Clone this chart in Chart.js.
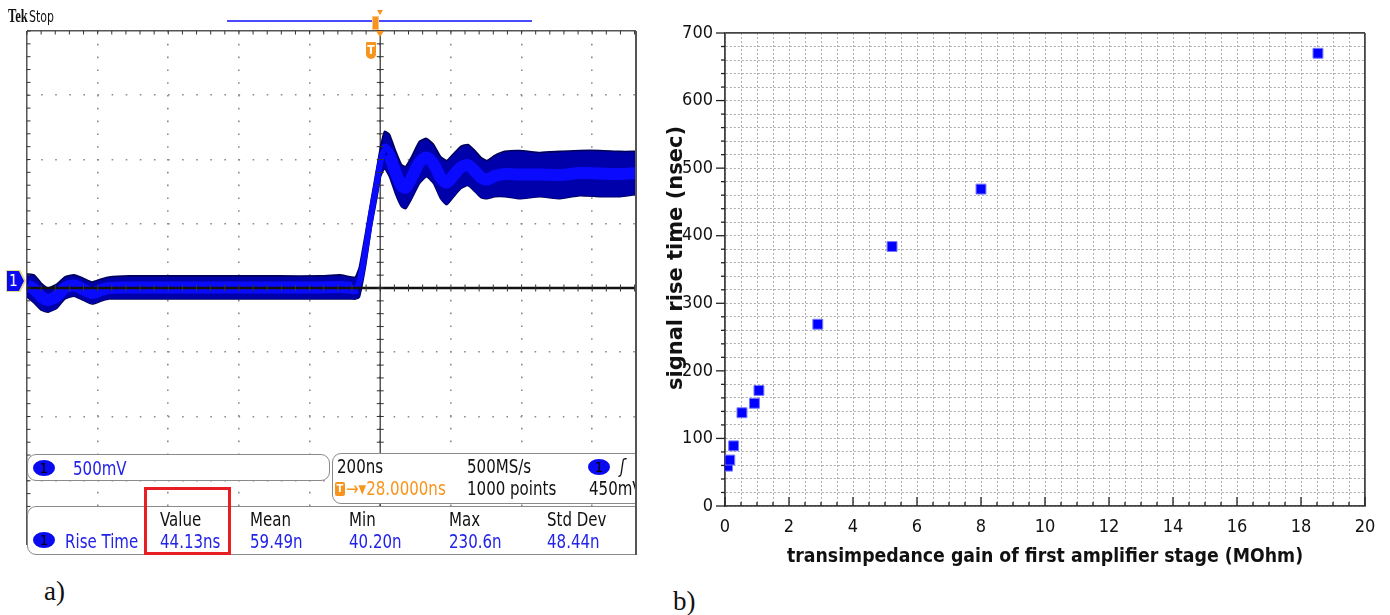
<!DOCTYPE html>
<html>
<head>
<meta charset="utf-8">
<script src="https://cdn.jsdelivr.net/npm/chart.js@4.4.0/dist/chart.umd.min.js"></script>
<style>
  html, body { margin: 0; padding: 0; background: #fff; }
  body { width: 1390px; height: 615px; position: relative; overflow: hidden; font-family: "DejaVu Sans", sans-serif; }
  #scope { position: absolute; left: 0; top: 0; width: 637px; height: 560px; overflow: hidden; }
  #scopeBox { position: absolute; left: 0; top: 0; width: 660px; height: 560px; }
  #plotBox { position: absolute; left: 660px; top: 0; width: 730px; height: 615px; }
  .tk { position: absolute; font-family: "Liberation Sans Narrow", "DejaVu Sans Condensed", sans-serif; font-size: 19px; line-height: 19px; white-space: nowrap; color: #111; transform: scaleX(0.88); transform-origin: left top; }
  .blue { color: #2323e8; }
  .orange { color: #f7941d; }
  .box { position: absolute; background: #fff; border: 1.5px solid #8a8a8a; border-radius: 9px; box-sizing: border-box; }
  .ch1 { position: absolute; width: 22px; height: 16px; border-radius: 50%; background: #0a0af0; color: #000; font-family: "DejaVu Sans Condensed", sans-serif; font-size: 14px; line-height: 16px; text-align: center; }
  .tri { position: absolute; width: 0; height: 0; border-left: 4.5px solid transparent; border-right: 4.5px solid transparent; border-top: 6px solid #f7941d; }
  .lbl { position: absolute; font-family: "Liberation Serif", "Times New Roman", serif; font-size: 27px; line-height: 27px; color: #111; }
  #yTitle { position: absolute; left: 675px; top: 258px; transform: translate(-50%, -50%) rotate(-90deg); font: bold 21px "DejaVu Sans", sans-serif; color: #111; white-space: nowrap; }
</style>
</head>
<body>

<div id="scope">
  <div id="scopeBox"><canvas id="scopeChart"></canvas></div>

  <!-- top status line -->
  <div style="position:absolute;left:8px;top:7px;white-space:nowrap;color:#111;">
    <span style="display:inline-block;font:bold 18px/18px 'Liberation Serif',serif;transform:scaleX(0.7);transform-origin:left;margin-right:-7px;">Tek</span><span style="display:inline-block;font:16px/18px 'DejaVu Sans Condensed',sans-serif;transform:scaleX(0.76);transform-origin:left;">Stop</span>
  </div>
  <div style="position:absolute;left:227px;top:20px;width:305px;height:1.5px;background:#4a4aff;"></div>
  <div class="tri" style="left:377px;top:10px;border-left-width:3px;border-right-width:3px;border-top-width:5px;"></div>
  <div style="position:absolute;left:372px;top:16px;width:7px;height:14px;background:#f7941d;border:1px solid #fbc58a;box-sizing:border-box;"></div>
  <div class="tri" style="left:376px;top:31px;"></div>
  <div style="position:absolute;left:366px;top:42px;width:10px;height:17px;background:#f7941d;border-radius:1px 1px 5px 5px;color:#fff;font:bold 12px/17px 'DejaVu Sans Condensed',sans-serif;text-align:center;">T</div>

  <!-- channel 1 ground marker -->
  <div style="position:absolute;left:6px;top:270px;width:20px;height:22px;background:#e8d890;clip-path:polygon(0 0,72% 0,100% 50%,72% 100%,0 100%);"></div>
  <div style="position:absolute;left:7px;top:271px;width:17px;height:20px;background:#0a0af0;clip-path:polygon(0 0,70% 0,100% 50%,70% 100%,0 100%);color:#fff;font:15px/20px 'DejaVu Sans Condensed',sans-serif;padding-left:2px;box-sizing:border-box;">1</div>

  <!-- readout boxes -->
  <div class="box" style="left:27px;top:454px;width:303px;height:27px;"></div>
  <div class="ch1" style="left:33px;top:460px;">1</div>
  <div class="tk blue" style="left:73px;top:459px;">500mV</div>

  <div class="box" style="left:332px;top:453px;width:340px;height:51px;"></div>
  <div class="tk" style="left:337px;top:457px;">200ns</div>
  <div class="tk" style="left:467px;top:457px;">500MS/s</div>
  <div class="ch1" style="left:588px;top:459px;">1</div>
  <div class="tk" style="left:620px;top:457px;font-style:italic;">ʃ</div>
  <div style="position:absolute;left:335px;top:482px;width:10px;height:14px;background:#f7941d;border-radius:2px;color:#fff;font:bold 11px/14px 'DejaVu Sans Condensed',sans-serif;text-align:center;">T</div>
  <div class="tk orange" style="left:346px;top:479px;">→▾28.0000ns</div>
  <div class="tk" style="left:467px;top:479px;">1000 points</div>
  <div class="tk" style="left:589px;top:479px;">450mV</div>

  <div class="box" style="left:27px;top:506px;width:640px;height:49px;"></div>
  <div class="tk" style="left:160px;top:510px;">Value</div>
  <div class="tk" style="left:250px;top:510px;">Mean</div>
  <div class="tk" style="left:349px;top:510px;">Min</div>
  <div class="tk" style="left:449px;top:510px;">Max</div>
  <div class="tk" style="left:547px;top:510px;">Std Dev</div>
  <div class="ch1" style="left:33px;top:532px;">1</div>
  <div class="tk blue" style="left:65px;top:532px;">Rise Time</div>
  <div class="tk blue" style="left:160px;top:532px;">44.13ns</div>
  <div class="tk blue" style="left:250px;top:532px;">59.49n</div>
  <div class="tk blue" style="left:349px;top:532px;">40.20n</div>
  <div class="tk blue" style="left:449px;top:532px;">230.6n</div>
  <div class="tk blue" style="left:547px;top:532px;">48.44n</div>

  <div style="position:absolute;left:635px;top:31px;width:1.5px;height:524px;background:#555;"></div>
  <div style="position:absolute;left:144px;top:487px;width:87px;height:68px;border:3px solid #e81e25;box-sizing:border-box;"></div>
</div>

<div class="lbl" style="left:44px;top:578px;">a)</div>
<div class="lbl" style="left:673px;top:588px;">b)</div>

<div id="plotBox"><canvas id="riseChart"></canvas></div>
<div id="yTitle">signal rise time (nsec)</div>

<script>
// ===== Panel a) : scope trace (200 ns/div, 500 mV/div) =====
const traceTimeNs = [-1000, -980, -960, -940, -915, -893, -867, -842, -816, -790,
  -768, -711, -626, -513, -399, -286, -172, -115, -81, -70,
  -59, -42, -25, -10, 1, 12, 26, 43, 60, 72,
  89, 111, 131, 151, 171, 188, 208, 228, 248, 268,
  285, 302, 324, 353, 395, 452, 509, 565, 622, 679, 724]

// upper / lower edge of the noise band, and its bright centre (mV)
const traceUpperMv = [109, 102, 39, 0, 31, 86, 102, 78, 47, 70,
  86, 94, 94, 94, 94, 94, 94, 102, 86, 86,
  164, 422, 695, 930, 1102, 1219, 1195, 1070, 961, 945,
  1023, 1141, 1164, 1117, 1023, 992, 1047, 1102, 1117, 1070,
  1016, 992, 1031, 1063, 1070, 1055, 1063, 1070, 1070, 1063, 1063]
const traceLowerMv = [-70, -117, -172, -188, -156, -86, -63, -94, -125, -102,
  -86, -86, -86, -86, -86, -86, -86, -86, -86, -86,
  -70, 164, 477, 695, 867, 930, 867, 734, 633, 617,
  695, 813, 867, 813, 695, 648, 711, 773, 797, 750,
  703, 695, 711, 711, 695, 711, 695, 719, 711, 711, 727]
const traceMidMv = [20, -8, -66, -94, -62, 0, 20, -8, -39, -16,
  0, 4, 4, 4, 4, 4, 4, 8, 0, 0,
  47, 293, 586, 812, 985, 1075, 1031, 902, 797, 781,
  859, 977, 1016, 965, 859, 820, 879, 938, 957, 910,
  860, 844, 871, 887, 883, 883, 879, 895, 891, 887, 895]

// screen: -1000..724 ns visible, -2000..2000 mV
const SCOPE_X_MIN = -1000, SCOPE_X_MAX = 724
const SCOPE_Y_MIN = -2000, SCOPE_Y_MAX = 2000

// ===== Panel b) : rise time vs gain =====
const gainMOhm = [0.08, 0.15, 0.27, 0.53, 0.92, 1.06, 2.9, 5.22, 8.0, 18.53]
const riseTimeNs = [59, 68, 89, 138, 152, 171, 269, 384, 469, 670]

const xTickStep = 0.5, xLabelEvery = 2
const yTickStep = 20, yLabelEvery = 100

function pts(xs, ys) {
  return xs.map((x, i) => ({ x: x, y: ys[i] }))
}

function line(ctx, x1, y1, x2, y2) {
  ctx.beginPath()
  ctx.moveTo(x1, y1)
  ctx.lineTo(x2, y2)
  ctx.stroke()
}

// crosshair + minor ticks of the graticule
const scopeDecor = {
  id: 'scopeDecor',
  beforeDatasetsDraw(chart) {
    const { ctx, chartArea: a, scales: { x } } = chart
    const x0 = x.getPixelForValue(0)
    ctx.save()
    ctx.strokeStyle = '#555'
    ctx.lineWidth = 1.5
    line(ctx, x0, a.top, x0, a.bottom)
    ctx.restore()
  },
  afterDatasetsDraw(chart) {
    const { ctx, chartArea: a, scales: { x, y } } = chart
    const x0 = x.getPixelForValue(0)
    const y0 = y.getPixelForValue(0)
    ctx.save()
    ctx.strokeStyle = '#111'
    ctx.lineWidth = 2.5
    line(ctx, a.left, y0, a.right, y0)
    ctx.strokeStyle = '#333'
    ctx.lineWidth = 1
    for (let t = SCOPE_X_MIN; t <= SCOPE_X_MAX; t += 40) {
      const px = x.getPixelForValue(t)
      line(ctx, px, y0 - 3.5, px, y0 + 3.5)
      line(ctx, px, a.top, px, a.top + 3.5)
    }
    for (let v = SCOPE_Y_MIN; v <= SCOPE_Y_MAX; v += 100) {
      const py = y.getPixelForValue(v)
      line(ctx, x0 - 3.5, py, x0 + 3.5, py)
      line(ctx, a.left, py, a.left + 3.5, py)
    }
    ctx.restore()
  }
}

const isEdge = (v, lo, hi) => v === lo || v === hi

new Chart(document.getElementById('scopeChart'), {
  type: 'line',
  data: {
    datasets: [
      {
        data: pts(traceTimeNs, traceMidMv),
        borderColor: '#0a0aff',
        borderWidth: 12,
        tension: 0.3,
        pointRadius: 0,
        fill: false,
        segment: {
          borderWidth: c => (c.p0.parsed.x >= -70 && c.p1.parsed.x <= 12) ? 6 : 12
        }
      },
      {
        data: pts(traceTimeNs, traceUpperMv),
        borderColor: '#00005a',
        borderWidth: 1.6,
        backgroundColor: '#0000aa',
        tension: 0.15,
        pointRadius: 0,
        fill: '+1'
      },
      {
        data: pts(traceTimeNs, traceLowerMv),
        borderColor: '#00005a',
        borderWidth: 1.6,
        tension: 0.15,
        pointRadius: 0,
        fill: false
      }
    ]
  },
  options: {
    responsive: true,
    maintainAspectRatio: false,
    animation: false,
    layout: { padding: { left: 27, top: 31, right: 24, bottom: 15 } },
    plugins: { legend: { display: false }, tooltip: { enabled: false } },
    scales: {
      x: {
        type: 'linear',
        min: SCOPE_X_MIN,
        max: SCOPE_X_MAX,
        afterFit: s => { s.height = 0 },
        ticks: { display: false, stepSize: 200 },
        grid: {
          drawTicks: false,
          color: c => isEdge(c.tick.value, SCOPE_X_MIN, SCOPE_X_MAX) ? '#555' : '#8a8a8a',
          lineWidth: c => isEdge(c.tick.value, SCOPE_X_MIN, SCOPE_X_MAX) ? 1.5 : 1.6
        },
        border: { display: false, dash: c => (c.tick && !isEdge(c.tick.value, SCOPE_X_MIN, SCOPE_X_MAX)) ? [1.6, 11.2] : [] }
      },
      y: {
        min: SCOPE_Y_MIN,
        max: SCOPE_Y_MAX,
        afterFit: s => { s.width = 0 },
        ticks: { display: false, stepSize: 500 },
        grid: {
          drawTicks: false,
          color: c => c.tick.value === SCOPE_Y_MAX ? '#555' : '#8a8a8a',
          lineWidth: c => c.tick.value === SCOPE_Y_MAX ? 1.5 : 1.6
        },
        border: { display: false, dash: c => (c.tick && c.tick.value !== SCOPE_Y_MAX) ? [1.6, 12.5] : [] }
      }
    }
  },
  plugins: [scopeDecor]
})

// ticks: outward on the y axis, inward on the x axis
const axisTicks = {
  id: 'axisTicks',
  afterDraw(chart) {
    const { ctx, chartArea: a, scales: { x, y } } = chart
    ctx.save()
    ctx.strokeStyle = '#222'
    ctx.lineWidth = 1.3
    x.ticks.forEach(t => {
      const px = x.getPixelForValue(t.value)
      const len = Math.abs(t.value % xLabelEvery) < 1e-6 ? 9 : 4
      line(ctx, px, a.bottom, px, a.bottom - len)
    })
    y.ticks.forEach(t => {
      const py = y.getPixelForValue(t.value)
      const len = Math.abs(t.value % yLabelEvery) < 1e-6 ? 9 : 4
      line(ctx, a.left - len, py, a.left, py)
    })
    ctx.restore()
  }
}

const tickFont = { family: 'DejaVu Sans Condensed', size: 18 }

new Chart(document.getElementById('riseChart'), {
  type: 'scatter',
  data: {
    datasets: [{
      data: pts(gainMOhm, riseTimeNs),
      pointStyle: 'rect',
      pointRadius: 7,
      backgroundColor: '#0000ff',
      borderColor: '#7777ff',
      borderWidth: 1
    }]
  },
  options: {
    responsive: true,
    maintainAspectRatio: false,
    animation: false,
    layout: { padding: { left: 0, top: 33, right: 25, bottom: 0 } },
    plugins: { legend: { display: false }, tooltip: { enabled: false } },
    scales: {
      x: {
        type: 'linear',
        min: 0,
        max: 20,
        afterFit: s => { s.height = 109 },
        ticks: {
          stepSize: xTickStep,
          autoSkip: false,
          maxRotation: 0,
          padding: 11,
          color: '#111',
          font: tickFont,
          callback: v => Math.abs(v % xLabelEvery) < 1e-6 ? v : ''
        },
        grid: {
          drawTicks: false,
          color: c => c.tick.value === 20 ? '#444' : '#ababab',
          lineWidth: c => c.tick.value === 20 ? 1.8 : 1
        },
        border: { display: true, color: '#444', width: 1.8, dash: c => (c.tick && c.tick.value !== 20) ? [2, 2] : [] },
        title: {
          display: true,
          text: 'transimpedance gain of first amplifier stage (MOhm)',
          color: '#111',
          font: { family: 'DejaVu Sans Condensed', weight: 'bold', size: 19.3 },
          padding: { top: 0, bottom: 46 }
        }
      },
      y: {
        min: 0,
        max: 700,
        afterFit: s => { s.width = 65 },
        ticks: {
          stepSize: yTickStep,
          autoSkip: false,
          padding: 12,
          color: '#111',
          font: tickFont,
          callback: v => v % yLabelEvery === 0 ? v : ''
        },
        grid: {
          drawTicks: false,
          color: c => c.tick.value === 700 ? '#444' : '#ababab',
          lineWidth: c => c.tick.value === 700 ? 1.8 : 1
        },
        border: { display: true, color: '#444', width: 1.8, dash: c => (c.tick && c.tick.value !== 700) ? [2, 2] : [] },
        title: { display: false }
      }
    }
  },
  plugins: [axisTicks]
})
</script>
</body>
</html>
